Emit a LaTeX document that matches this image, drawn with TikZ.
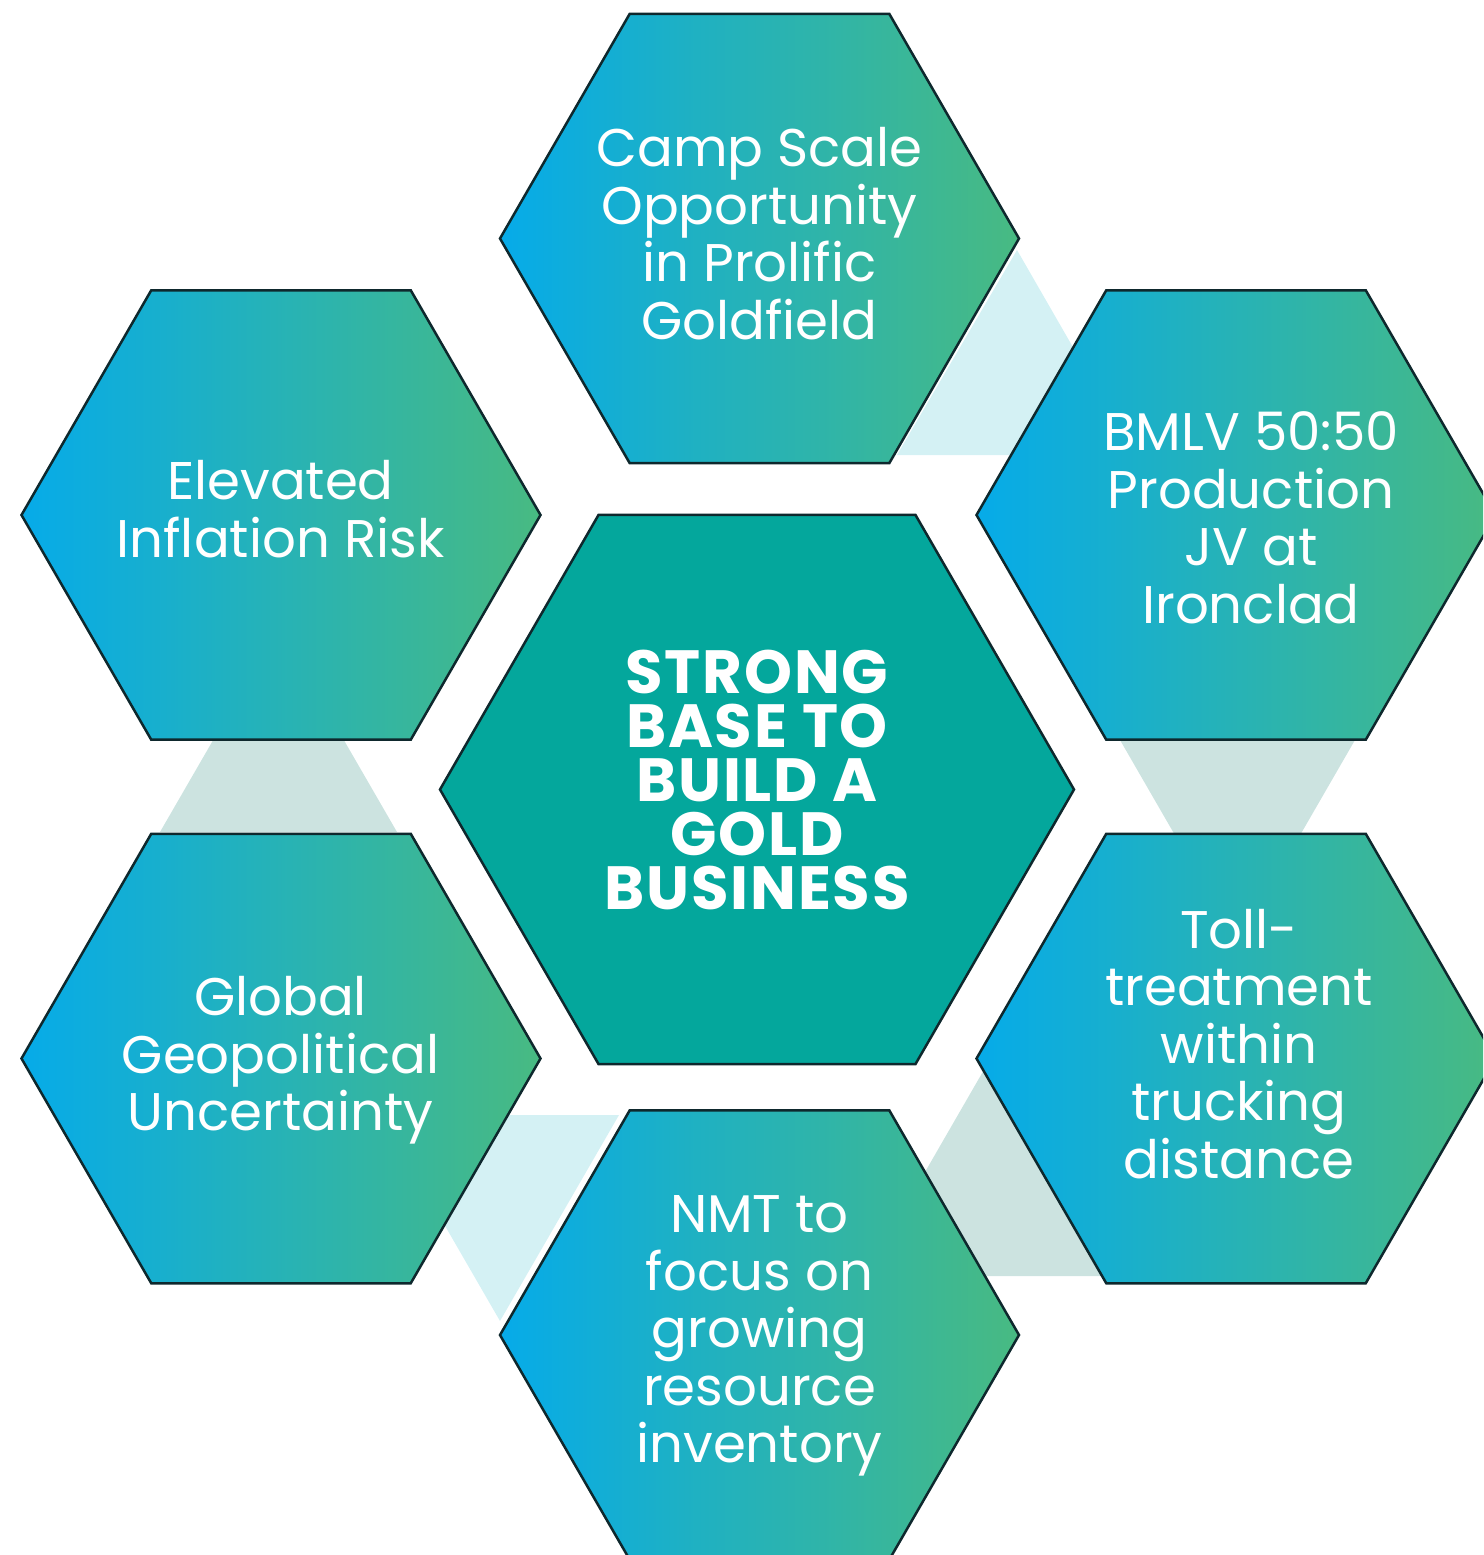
\documentclass[tikz,border=0pt]{standalone}
\usepackage{fontspec}
\setmainfont{Poppins}
\newfontfamily\preg{Poppins}
\newfontfamily\pbold{Poppins Bold}[LetterSpace=3]
\usetikzlibrary{shapes.geometric}
\definecolor{hexL}{RGB}{6,171,233}
\definecolor{hexR}{RGB}{72,186,130}
\definecolor{edgec}{RGB}{14,40,45}
\definecolor{centerc}{RGB}{4,167,156}
\definecolor{linkc}{RGB}{212,241,244}
\definecolor{linkg}{RGB}{204,227,224}
\begin{document}
\begin{tikzpicture}[x=1pt,y=-1pt,
  hexbox/.style={regular polygon, regular polygon sides=6, minimum size=519pt,
    inner sep=0pt, draw=edgec, line width=2.5pt, left color=hexL, right color=hexR},
  corebox/.style={regular polygon, regular polygon sides=6, minimum size=634pt,
    inner sep=0pt, draw=edgec, line width=2.5pt, fill=centerc},
  hextext/.style={text=white, align=center, inner sep=0pt, font=\preg\fontsize{53}{57.5}\selectfont},
  coretext/.style={text=white, align=center, inner sep=0pt, font=\pbold\fontsize{61}{54}\selectfont},
  linkcyan/.style={fill=linkc, draw=none},
  linkgray/.style={fill=linkg, draw=none}]
\useasboundingbox (0,0) rectangle (1483,1555);
\clip (0,0) rectangle (1483,1555);
% connectors (behind)
\fill[linkcyan] (897,455) -- (1135,455) -- (1017,250) -- cycle;
\fill[linkgray] (1120,740) -- (1355,740) -- (1237.5,943.5) -- cycle;
\fill[linkgray] (160,832) -- (397,832) -- (278.5,627) -- cycle;
\fill[linkcyan] (381,1115) -- (619,1115) -- (500,1321) -- cycle;
\fill[linkgray] (865,1276) -- (1105,1276) -- (985,1068) -- cycle;
% hexagons
\node[corebox] (core) at (757,789.5) {};
\node[hexbox] (camp) at (759.5,238.5) {};
\node[hexbox] (bmlv) at (1236,515) {};
\node[hexbox] (infl) at (281,515) {};
\node[hexbox] (geo) at (281,1058.5) {};
\node[hexbox] (toll) at (1236,1058.5) {};
\node[hexbox] (nmt) at (759.5,1335) {};
% texts
\node[coretext] (core-t) at (757,779.5) {STRONG\\BASE TO\\BUILD A\\GOLD\\BUSINESS};
\node[hextext] (camp-t) at (759.5,233.5) {Camp Scale\\Opportunity\\in Prolific\\Goldfield};
\node[hextext] (bmlv-t) at (1251,518) {BMLV 50:50\\Production\\JV at\\Ironclad};
\node[hextext] (infl-t) at (280.5,509) {Elevated\\Inflation Risk};
\node[hextext] (geo-t) at (280.5,1060.5) {Global\\Geopolitical\\Uncertainty};
\node[hextext] (toll-t) at (1239,1044) {Toll-\\treatment\\within\\trucking\\distance};
\node[hextext] (nmt-t) at (759.5,1336) {NMT to\\focus on\\growing\\resource\\inventory};
\end{tikzpicture}
\end{document}
